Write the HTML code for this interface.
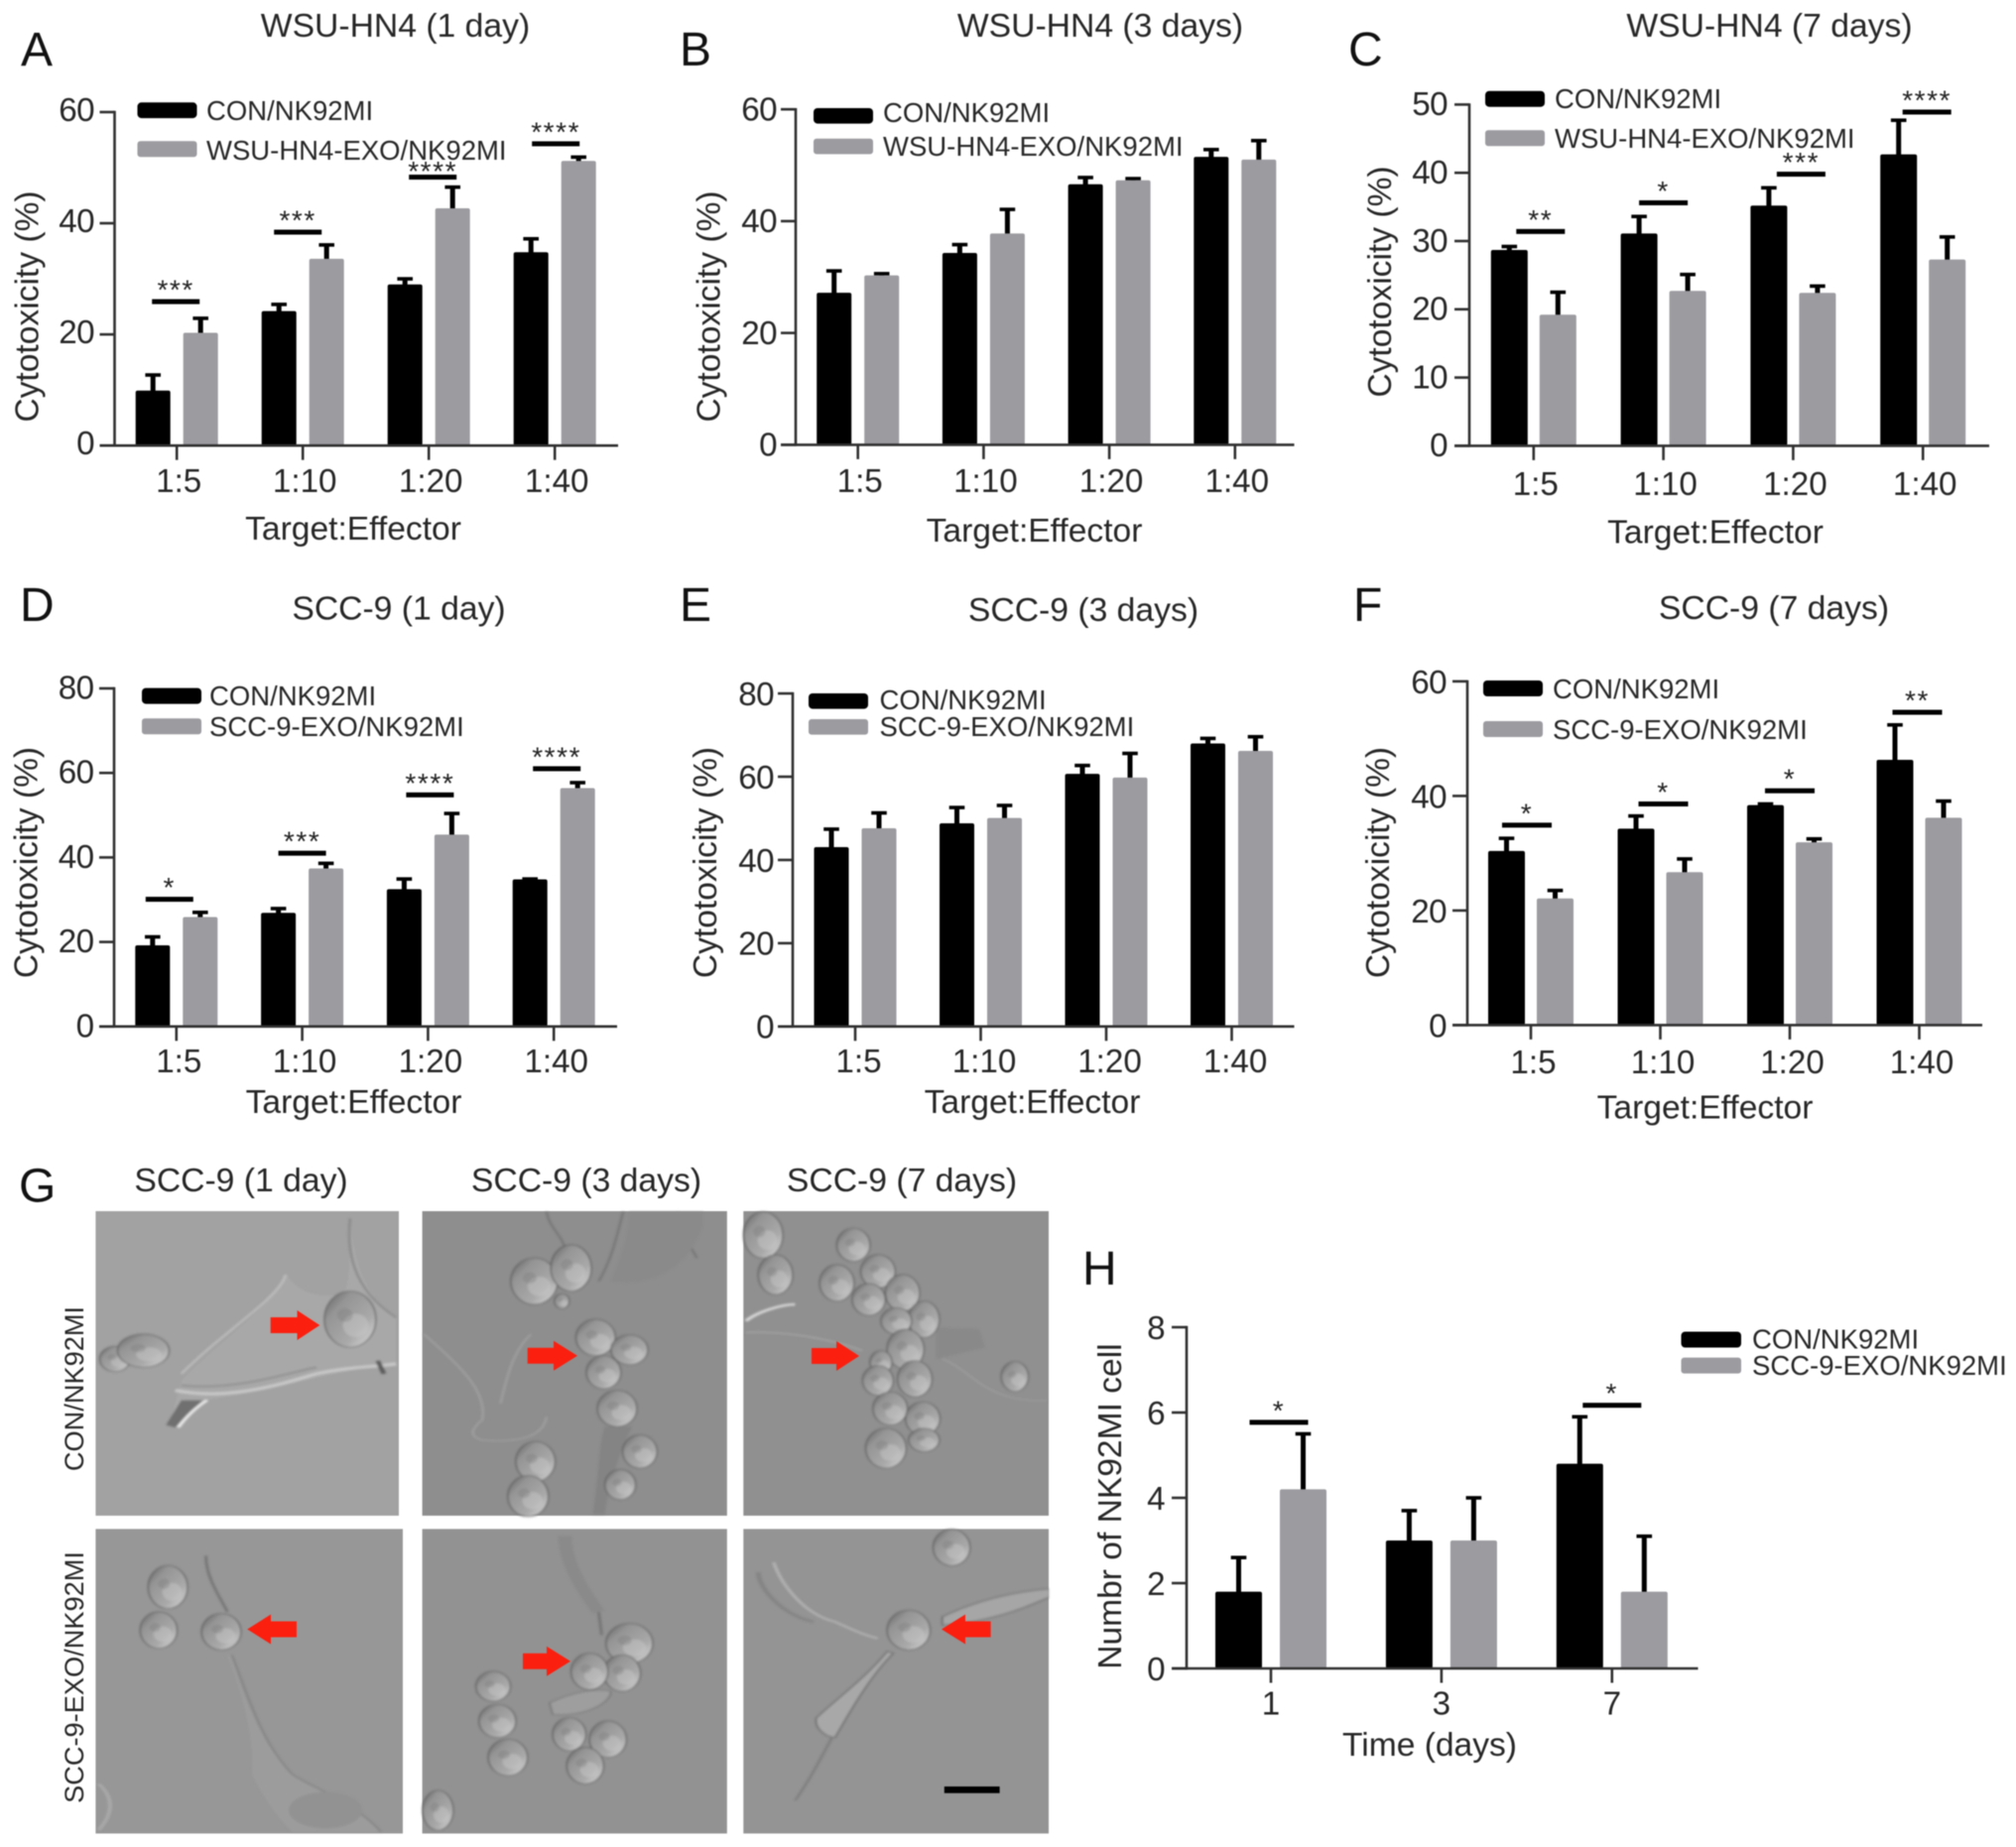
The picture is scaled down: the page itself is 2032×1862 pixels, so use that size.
<!DOCTYPE html>
<html lang="en">
<head>
<meta charset="utf-8">
<title>NK92MI cytotoxicity figure</title>
<style>
html,body{margin:0;padding:0;background:#fff;width:2032px;height:1862px;overflow:hidden}
svg{display:block;filter:blur(0.6px)}
text{font-family:"Liberation Sans",sans-serif;fill:#262626}
.title{font-size:33.7px;text-anchor:middle}
.letter{font-size:48px;fill:#111}
.axis-title{font-size:33.6px;text-anchor:middle}
.legend{font-size:27.5px}
.tick{font-size:33.2px}
.ytick{font-size:33.2px;letter-spacing:-0.6px}
.stars{font-size:28px;text-anchor:middle;letter-spacing:1.6px;fill:#222}
.photo-label{font-size:27.2px;text-anchor:middle}
</style>
</head>
<body>
<svg id="figure" xmlns="http://www.w3.org/2000/svg" width="2032" height="1862" viewBox="0 0 2032 1862">
<defs>
<linearGradient id="cellGrad" x1="0" y1="0" x2="1" y2="1">
<stop offset="0" stop-color="#606060"/><stop offset="0.28" stop-color="#959595"/><stop offset="0.68" stop-color="#a9a9a9"/><stop offset="1" stop-color="#e2e2e2"/>
</linearGradient>
<filter id="soft" x="-2%" y="-2%" width="104%" height="104%"><feGaussianBlur stdDeviation="1.1"/></filter>
<clipPath id="clip-p1"><rect x="96.4" y="1221" width="305.6" height="307"/></clipPath>
<clipPath id="clip-p2"><rect x="425.6" y="1221" width="307.2" height="307"/></clipPath>
<clipPath id="clip-p3"><rect x="749.3" y="1221" width="307.7" height="307"/></clipPath>
<clipPath id="clip-p4"><rect x="96.4" y="1541.4" width="309.6" height="307"/></clipPath>
<clipPath id="clip-p5"><rect x="425.6" y="1541.4" width="307.2" height="307"/></clipPath>
<clipPath id="clip-p6"><rect x="749.3" y="1541.4" width="307.7" height="307"/></clipPath>
</defs>

<!-- Panel A -->
<g>
<text class="letter" x="21" y="66">A</text>
<text class="title" x="398.5" y="37">WSU-HN4 (1 day)</text>
<text class="axis-title" transform="translate(38.6 309) rotate(-90)">Cytotoxicity (%)</text>
<text class="axis-title" x="356" y="544">Target:Effector</text>
<rect x="138.5" y="103.3" width="60" height="15.8" rx="4" fill="#000"/>
<text class="legend" x="208" y="121">CON/NK92MI</text>
<rect x="138.5" y="142.3" width="60" height="16" rx="3" fill="#9b9ba0"/>
<text class="legend" x="208" y="161">WSU-HN4-EXO/NK92MI</text>
<g id="chart-a"></g>
</g>

<!-- Panel B -->
<g>
<text class="letter" x="685" y="66">B</text>
<text class="title" x="1109" y="37">WSU-HN4 (3 days)</text>
<text class="axis-title" transform="translate(725.5 309) rotate(-90)">Cytotoxicity (%)</text>
<text class="axis-title" x="1042.5" y="546">Target:Effector</text>
<rect x="820" y="109" width="60" height="15.6" rx="4" fill="#000"/>
<text class="legend" x="890" y="123">CON/NK92MI</text>
<rect x="820" y="139.8" width="60" height="15.6" rx="3" fill="#9b9ba0"/>
<text class="legend" x="890" y="157">WSU-HN4-EXO/NK92MI</text>
<g id="chart-b"></g>
</g>

<!-- Panel C -->
<g>
<text class="letter" x="1359" y="66">C</text>
<text class="title" x="1783.5" y="37">WSU-HN4 (7 days)</text>
<text class="axis-title" transform="translate(1402 284) rotate(-90)">Cytotoxicity (%)</text>
<text class="axis-title" x="1729" y="547.5">Target:Effector</text>
<rect x="1497" y="91.7" width="60" height="16" rx="4" fill="#000"/>
<text class="legend" x="1567" y="109">CON/NK92MI</text>
<rect x="1497" y="131.3" width="60" height="16" rx="3" fill="#9b9ba0"/>
<text class="legend" x="1567" y="149">WSU-HN4-EXO/NK92MI</text>
<g id="chart-c"></g>
</g>

<!-- Panel D -->
<g>
<text class="letter" x="20" y="626">D</text>
<text class="title" x="402" y="624.4">SCC-9 (1 day)</text>
<text class="axis-title" transform="translate(37.7 869.5) rotate(-90)">Cytotoxicity (%)</text>
<text class="axis-title" x="356.5" y="1122">Target:Effector</text>
<rect x="143" y="693.6" width="60" height="16" rx="4" fill="#000"/>
<text class="legend" x="211" y="711">CON/NK92MI</text>
<rect x="143" y="724.3" width="60" height="16" rx="3" fill="#9b9ba0"/>
<text class="legend" x="211" y="742">SCC-9-EXO/NK92MI</text>
<g id="chart-d"></g>
</g>

<!-- Panel E -->
<g>
<text class="letter" x="685" y="626">E</text>
<text class="title" x="1092" y="626">SCC-9 (3 days)</text>
<text class="axis-title" transform="translate(722 869.5) rotate(-90)">Cytotoxicity (%)</text>
<text class="axis-title" x="1040.5" y="1122">Target:Effector</text>
<rect x="815" y="699" width="60" height="15.6" rx="4" fill="#000"/>
<text class="legend" x="886.5" y="715">CON/NK92MI</text>
<rect x="815" y="725" width="60" height="15.6" rx="3" fill="#9b9ba0"/>
<text class="legend" x="886.5" y="742">SCC-9-EXO/NK92MI</text>
<g id="chart-e"></g>
</g>

<!-- Panel F -->
<g>
<text class="letter" x="1364" y="626">F</text>
<text class="title" x="1788" y="624">SCC-9 (7 days)</text>
<text class="axis-title" transform="translate(1400 869.5) rotate(-90)">Cytotoxicity (%)</text>
<text class="axis-title" x="1718.5" y="1127.5">Target:Effector</text>
<rect x="1495" y="686" width="60" height="16" rx="4" fill="#000"/>
<text class="legend" x="1565" y="704">CON/NK92MI</text>
<rect x="1495" y="727" width="60" height="16" rx="3" fill="#9b9ba0"/>
<text class="legend" x="1565" y="745">SCC-9-EXO/NK92MI</text>
<g id="chart-f"></g>
</g>

<!-- Panel G micrographs -->
<g>
<text class="letter" x="19" y="1211.5">G</text>
<text class="title" x="243" y="1201">SCC-9 (1 day)</text>
<text class="title" x="591" y="1201">SCC-9 (3 days)</text>
<text class="title" x="909" y="1201">SCC-9 (7 days)</text>
<text class="photo-label" transform="translate(84 1400) rotate(-90)">CON/NK92MI</text>
<text class="photo-label" transform="translate(84 1691) rotate(-90)">SCC-9-EXO/NK92MI</text>
<rect x="96.4" y="1221" width="305.6" height="307" fill="#a2a2a2"/>
<rect x="425.6" y="1221" width="307.2" height="307" fill="#8e8e8e"/>
<rect x="749.3" y="1221" width="307.7" height="307" fill="#909090"/>
<rect x="96.4" y="1541.4" width="309.6" height="307" fill="#979797"/>
<rect x="425.6" y="1541.4" width="307.2" height="307" fill="#929292"/>
<rect x="749.3" y="1541.4" width="307.7" height="307" fill="#949494"/>
<g filter="url(#soft)">
<g clip-path="url(#clip-p1)"><g transform="translate(90 1215) scale(0.6186 0.3333)" fill="none">
<path d="M130 670 L150 530 C200 430 290 320 322 210 C340 270 380 280 410 270 C430 250 420 130 425 30 C430 170 450 280 500 340 L500 480 C420 490 300 560 190 590 Z" fill="#a8a8a8"/>
<path d="M140 560 C220 590 300 550 370 510 C420 490 460 490 500 480" stroke="#c9c9c9" stroke-width="9"/>
<path d="M150 545 C230 560 300 520 370 490" stroke="#8d8d8d" stroke-width="5"/>
<path d="M125 665 L150 590 L185 590 L140 672 Z" fill="#6f6f6f"/>
<path d="M145 672 C160 635 175 610 192 590" stroke="#ececec" stroke-width="6"/>
<path d="M425 40 C420 130 425 250 500 340" stroke="#8a8a8a" stroke-width="4"/>
<path d="M320 210 C310 280 220 380 150 510" stroke="#bcbcbc" stroke-width="5"/>
<path d="M470 470 L480 510" stroke="#5c5c5c" stroke-width="8"/>
</g></g>
<g clip-path="url(#clip-p2)"><g transform="translate(90 1215) scale(0.6186 0.3333)" fill="none">
<path d="M745 20 C750 70 770 90 775 130 M870 20 C860 90 850 170 830 230 M960 20 C950 60 980 120 990 160" stroke="#777" stroke-width="4"/>
<path d="M850 230 C920 250 980 180 1000 60 L1000 20 L880 20 C880 100 860 180 850 230 Z" fill="#8a8a8a"/>
<path d="M545 390 C600 480 650 560 640 650 C620 680 620 700 640 710 C700 720 740 700 745 640" stroke="#9c9c9c" stroke-width="5"/>
<path d="M720 390 C690 440 680 520 670 600" stroke="#9c9c9c" stroke-width="5"/>
<path d="M820 935 C830 820 830 720 840 670 L885 670 C870 720 845 850 840 935 Z" fill="#848484"/>
</g></g>
<g clip-path="url(#clip-p3)"><g transform="translate(90 1215) scale(0.6186 0.3333)" fill="none">
<path d="M1070 350 C1090 320 1130 300 1150 300" stroke="#dadada" stroke-width="7"/>
<path d="M1070 385 C1130 380 1200 400 1260 440" stroke="#a2a2a2" stroke-width="5"/>
<path d="M1380 370 L1450 375 L1460 430 L1380 465 Z" fill="#898989"/>
<path d="M1390 465 C1440 500 1460 600 1560 590" stroke="#9a9a9a" stroke-width="5"/>
</g></g>
<g clip-path="url(#clip-p4)"><g transform="translate(90 1535) scale(0.6186 0.3333)" fill="none">
<path d="M190 100 C190 170 215 230 225 270" stroke="#777" stroke-width="5"/>
<path d="M230 400 C250 500 270 650 330 760 C360 800 430 840 475 935 L330 935 C300 880 280 820 265 760 C270 660 250 520 225 400 Z" fill="#9c9c9c"/>
<path d="M232 400 C255 500 275 650 330 760 C360 800 430 840 475 935" stroke="#868686" stroke-width="4"/>
<ellipse cx="385" cy="870" rx="60" ry="55" fill="#929292"/>
<path d="M15 790 C40 830 40 880 15 930" stroke="#a8a8a8" stroke-width="7"/>
</g></g>
<g clip-path="url(#clip-p5)"><g transform="translate(90 1535) scale(0.6186 0.3333)" fill="none">
<path d="M775 40 C775 130 810 220 830 270" stroke="#8a8a8a" stroke-width="22"/>
<path d="M830 270 L835 340" stroke="#777" stroke-width="5"/>
<path d="M750 545 C790 510 830 500 850 510 C850 550 800 590 755 580 Z" fill="#9e9e9e" stroke="#7a7a7a" stroke-width="3"/>
</g></g>
<g clip-path="url(#clip-p6)"><g transform="translate(90 1535) scale(0.6186 0.3333)" fill="none">
<path d="M1115 120 C1130 200 1170 280 1215 300 C1240 320 1260 340 1285 350" stroke="#b0b0b0" stroke-width="6"/>
<path d="M1090 150 C1090 200 1130 280 1180 300" stroke="#858585" stroke-width="8"/>
<path d="M1390 285 C1440 240 1500 210 1565 200 L1565 225 C1520 260 1470 300 1390 310 Z" fill="#a6a6a6" stroke="#6f6f6f" stroke-width="3"/>
<path d="M1300 390 C1270 460 1220 530 1185 590 C1180 620 1200 650 1215 650 C1240 570 1270 470 1310 395 Z" fill="#a8a8a8" stroke="#6f6f6f" stroke-width="3"/>
<path d="M1210 650 C1190 720 1170 790 1150 840" stroke="#808080" stroke-width="5"/>
</g></g>
<g id="cells-top" transform="translate(90 1215) scale(0.6186 0.3333)"></g>
<g id="cells-bottom" transform="translate(90 1535) scale(0.6186 0.3333)"></g>
</g>
<polygon points="272.7,1328 299.5,1328 299.5,1321 322.3,1336 299.5,1351 299.5,1344 272.7,1344" fill="#fb1f0f"/>
<polygon points="531.7,1358.8 558,1358.8 558,1351.8 582,1366.8 558,1381.8 558,1374.8 531.7,1374.8" fill="#fb1f0f"/>
<polygon points="818,1359 843,1359 843,1352 866,1367 843,1382 843,1375 818,1375" fill="#fb1f0f"/>
<polygon points="299,1634.5 273,1634.5 273,1627.5 249.3,1642.5 273,1657.5 273,1650.5 299,1650.5" fill="#fb1f0f"/>
<polygon points="527,1666.8 551,1666.8 551,1659.8 575,1674.8 551,1689.8 551,1682.8 527,1682.8" fill="#fb1f0f"/>
<polygon points="998.6,1634.5 973,1634.5 973,1627.5 949,1642.5 973,1657.5 973,1650.5 998.6,1650.5" fill="#fb1f0f"/>
<rect x="951.8" y="1801" width="55.8" height="6.7" fill="#000"/>
</g>

<!-- Panel H -->
<g>
<text class="letter" x="1091" y="1295">H</text>
<text class="axis-title" transform="translate(1130 1518.6) rotate(-90)">Numbr of NK92MI cell</text>
<text class="axis-title" x="1441" y="1770">Time (days)</text>
<rect x="1694.5" y="1342.5" width="60.5" height="16" rx="4" fill="#000"/>
<text class="legend" x="1766" y="1359.5">CON/NK92MI</text>
<rect x="1694.5" y="1368.6" width="60.5" height="16" rx="3" fill="#9b9ba0"/>
<text class="legend" x="1766" y="1386">SCC-9-EXO/NK92MI</text>
<g id="chart-h"></g>
</g>
</svg>

<script>
// ---- chart data ----
const ratioCategories = ['1:5', '1:10', '1:20', '1:40'];
const timeCategories = ['1', '3', '7'];

const ticks60 = [0, 20, 40, 60];
const ticks50 = [0, 10, 20, 30, 40, 50];
const ticks80 = [0, 20, 40, 60, 80];
const ticks8 = [0, 2, 4, 6, 8];

const aControl = [9.9, 24.2, 29.0, 34.8];
const aControlErr = [2.8, 1.2, 1.0, 2.4];
const aExo = [20.3, 33.6, 42.7, 51.2];
const aExoErr = [2.6, 2.5, 3.8, 0.7];
const aSigGroups = [0, 1, 2, 3];
const aSigLabels = ['***', '***', '****', '****'];
const aSigLevels = [25.9, 38.4, 48.3, 54.3];

const bControl = [27.2, 34.3, 46.6, 51.5];
const bControlErr = [3.9, 1.5, 1.2, 1.3];
const bExo = [30.3, 37.8, 47.3, 51.0];
const bExoErr = [0.3, 4.3, 0.3, 3.4];

const cControl = [28.7, 31.1, 35.2, 42.7];
const cControlErr = [0.5, 2.5, 2.6, 5.0];
const cExo = [19.2, 22.7, 22.4, 27.3];
const cExoErr = [3.3, 2.4, 1.0, 3.3];
const cSigGroups = [0, 1, 2, 3];
const cSigLabels = ['**', '*', '***', '****'];
const cSigLevels = [31.4, 35.6, 39.8, 48.9];

const dControl = [19.2, 26.9, 32.5, 34.8];
const dControlErr = [2.0, 1.0, 2.4, 0.1];
const dExo = [25.9, 37.4, 45.4, 56.4];
const dExoErr = [1.1, 1.2, 5.0, 1.3];
const dSigGroups = [0, 1, 2, 3];
const dSigLabels = ['*', '***', '****', '****'];
const dSigLevels = [30.1, 41.0, 54.8, 61.0];

const eControl = [43.1, 48.8, 60.7, 68.0];
const eControlErr = [4.3, 3.8, 2.0, 1.2];
const eExo = [47.6, 50.1, 59.8, 66.2];
const eExoErr = [3.7, 3.0, 5.8, 3.4];

const fControl = [30.4, 34.3, 38.4, 46.3];
const fControlErr = [2.2, 2.2, 0.2, 6.1];
const fExo = [22.1, 26.7, 31.9, 36.2];
const fExoErr = [1.4, 2.3, 0.6, 2.9];
const fSigGroups = [0, 1, 2, 3];
const fSigLabels = ['*', '*', '*', '**'];
const fSigLevels = [34.9, 38.6, 40.9, 54.6];

const hControl = [1.8, 3.0, 4.8];
const hControlErr = [0.8, 0.7, 1.1];
const hExo = [4.2, 3.0, 1.8];
const hExoErr = [1.3, 1.0, 1.3];
const hSigGroups = [0, 2];
const hSigLabels = ['*', '*'];
const hSigLevels = [5.77, 6.17];

// ---- layout (pixels) ----
const layoutA = {id:'chart-a', axisX:115.5, xEnd:623, yTop:113, y0:449.2, tick0:178.2, step:127, barW:35, off:24, labelRight:95, labelBase:496, labelDx:2, labelDy:8.8, sigW:48, sigShift:[-1,-5,4,1], starDrop:[0,0,6,0]};
const layoutB = {id:'chart-b', axisX:802, xEnd:1304.5, yTop:110.2, y0:448.4, tick0:864.7, step:126.7, barW:35, off:24, labelRight:783, labelBase:496, labelDx:2, labelDy:11.3, sigW:48, sigShift:[], starDrop:[]};
const layoutC = {id:'chart-c', axisX:1481, xEnd:2005, yTop:105.4, y0:449.4, tick0:1545.8, step:130.8, barW:37, off:24.5, labelRight:1459, labelBase:499, labelDx:2, labelDy:10.8, sigW:49, sigShift:[7,0,8,4], starDrop:[0,0,0,0]};
const layoutD = {id:'chart-d', axisX:115, xEnd:622, yTop:694, y0:1034.8, tick0:177.8, step:126.8, barW:35, off:24, labelRight:94.5, labelBase:1081, labelDx:2.5, labelDy:10.5, sigW:48, sigShift:[-7,0,2,3], starDrop:[0,0,0,0]};
const layoutE = {id:'chart-e', axisX:799, xEnd:1304.5, yTop:699.1, y0:1034.8, tick0:862, step:126.5, barW:35, off:24, labelRight:780, labelBase:1081, labelDx:3.5, labelDy:11.8, sigW:48, sigShift:[], starDrop:[]};
const layoutF = {id:'chart-f', axisX:1479, xEnd:1998, yTop:686.9, y0:1033.4, tick0:1543, step:130.5, barW:37, off:24.5, labelRight:1458, labelBase:1082, labelDx:2.5, labelDy:12, sigW:50, sigShift:[-4,3,0,-2], starDrop:[0,0,0,0]};
const layoutH = {id:'chart-h', axisX:1196, xEnd:1711.5, yTop:1338, y0:1682, tick0:1281, step:171.9, barW:47, off:32.5, labelRight:1174, labelBase:1728.6, labelDx:0, labelDy:12, sigW:59, sigShift:[8,0], starDrop:[0,0]};

const NS = 'http://www.w3.org/2000/svg';
function mk(tag, attrs, parent) {
  const node = document.createElementNS(NS, tag);
  for (const k in attrs) node.setAttribute(k, attrs[k]);
  parent.appendChild(node);
  return node;
}
function yScale(p, ticks, v) {
  return p.y0 - (v / ticks[ticks.length - 1]) * (p.y0 - p.yTop);
}
function xScale(p, i) {
  return p.tick0 + i * p.step;
}
function drawBarSeries(g, p, ticks, values, errs, dir, fill, isControl) {
  values.forEach(function (v, i) {
    const cx = xScale(p, i) + dir * p.off;
    const top = yScale(p, ticks, v);
    const cap = yScale(p, ticks, v + errs[i]);
    const stem = mk('rect', {x: cx - 2.5, y: cap, width: 5, height: top - cap + 2, fill: '#000'}, g);
    
    
    const capBar = mk('rect', {x: cx - 7.8, y: cap - 1.8, width: 15.6, height: 3.6, fill: '#000'}, g);
    
    
    const bar = mk('rect', {x: cx - p.barW / 2, y: top, width: p.barW, height: p.y0 - top, rx: 2, fill: fill}, g);
    
    
  });
}
function drawChart(p, categories, ticks, control, controlErr, exo, exoErr, sigGroups, sigLabels, sigLevels) {
  const g = document.getElementById(p.id);
  drawBarSeries(g, p, ticks, control, controlErr, -1, '#000', true);
  drawBarSeries(g, p, ticks, exo, exoErr, 1, '#9b9ba0', false);

  const yAxis = mk('line', {x1: p.axisX, x2: p.axisX, y1: p.yTop - 1.2, y2: p.y0 + 1.2, stroke: '#303030', 'stroke-width': 2.6}, g);
  
  
  const xAxis = mk('line', {x1: p.axisX - 15, x2: p.xEnd, y1: p.y0, y2: p.y0, stroke: '#303030', 'stroke-width': 2.6}, g);
  
  

  ticks.forEach(function (t) {
    const y = yScale(p, ticks, t);
    const mark = mk('line', {x1: p.axisX - 15, x2: p.axisX, y1: y, y2: y, stroke: '#303030', 'stroke-width': 2.6}, g);
    
    
    const label = mk('text', {x: p.labelRight, y: y + p.labelDy, 'text-anchor': 'end', 'class': 'ytick'}, g);
    
    
    label.textContent = t;
  });
  categories.forEach(function (c, i) {
    const x = xScale(p, i);
    const mark = mk('line', {x1: x, x2: x, y1: p.y0, y2: p.y0 + 14.5, stroke: '#303030', 'stroke-width': 2.6}, g);
    
    
    const label = mk('text', {x: x + p.labelDx, y: p.labelBase, 'text-anchor': 'middle', 'class': 'tick'}, g);
    
    
    label.textContent = c;
  });
  sigGroups.forEach(function (grp, i) {
    const cx = xScale(p, grp) + p.sigShift[i];
    const y = yScale(p, ticks, sigLevels[i]);
    const line = mk('rect', {x: cx - p.sigW / 2, y: y - 2.5, width: p.sigW, height: 5, fill: '#000'}, g);
    
    
    const stars = mk('text', {x: cx, y: y - 2.5 + p.starDrop[i], 'class': 'stars'}, g);
    
    
    stars.textContent = sigLabels[i];
  });
}

drawChart(layoutA, ratioCategories, ticks60, aControl, aControlErr, aExo, aExoErr, aSigGroups, aSigLabels, aSigLevels);
drawChart(layoutB, ratioCategories, ticks60, bControl, bControlErr, bExo, bExoErr, [], [], []);
drawChart(layoutC, ratioCategories, ticks50, cControl, cControlErr, cExo, cExoErr, cSigGroups, cSigLabels, cSigLevels);
drawChart(layoutD, ratioCategories, ticks80, dControl, dControlErr, dExo, dExoErr, dSigGroups, dSigLabels, dSigLevels);
drawChart(layoutE, ratioCategories, ticks80, eControl, eControlErr, eExo, eExoErr, [], [], []);
drawChart(layoutF, ratioCategories, ticks60, fControl, fControlErr, fExo, fExoErr, fSigGroups, fSigLabels, fSigLevels);
drawChart(layoutH, timeCategories, ticks8, hControl, hControlErr, hExo, hExoErr, hSigGroups, hSigLabels, hSigLevels);

// ---- micrograph cell sketches ----
const topRowCells = [
  [425,345,42,85],[42,465,25,38],[88,440,42,50],
  [725,230,38,70],[785,190,33,70],[770,290,12,22],[825,400,32,55],[880,437,30,45],[838,505,28,50],[860,615,32,55],[727,775,32,60],[715,880,33,62],[897,745,28,50],[865,845,25,45],
  [1098,90,32,70],[1118,210,28,60],[1245,120,27,50],[1285,200,28,50],[1218,235,28,55],[1270,285,27,48],[1325,265,28,55],[1360,345,25,55],[1315,350,25,40],[1330,435,30,60],[1290,475,18,35],[1345,525,28,55],[1285,530,25,45],[1305,615,28,50],[1358,645,28,50],[1298,735,33,60],[1360,710,25,35],[1508,518,22,45]
];
const bottomRowCells = [
  [128,195,32,65],[113,325,30,55],[215,330,32,55],
  [880,365,38,60],[868,455,30,55],[815,450,30,55],[658,495,28,45],[665,600,30,50],[682,710,32,55],[782,640,27,50],[845,655,30,55],[808,735,30,55],[568,870,25,60],
  [1335,325,35,60],[1405,75,30,55]
];
function drawCells(layerId, cells) {
  const layer = document.getElementById(layerId);
  cells.forEach(function (c) {
    const cell = mk('ellipse', {cx: c[0], cy: c[1], rx: c[2], ry: c[3], fill: 'url(#cellGrad)', stroke: '#585858', 'stroke-width': 2}, layer);
    
    
    const glow = mk('ellipse', {cx: c[0] + c[2] * 0.22, cy: c[1] + c[3] * 0.22, rx: c[2] * 0.5, ry: c[3] * 0.42, fill: '#d0d0d0', opacity: 0.4}, layer);
    
    
    const core = mk('ellipse', {cx: c[0] - c[2] * 0.2, cy: c[1] - c[3] * 0.15, rx: c[2] * 0.3, ry: c[3] * 0.24, fill: '#7a7a7a', opacity: 0.35}, layer);
    
    
  });
}
drawCells('cells-top', topRowCells);
drawCells('cells-bottom', bottomRowCells);
</script>
</body>
</html>
